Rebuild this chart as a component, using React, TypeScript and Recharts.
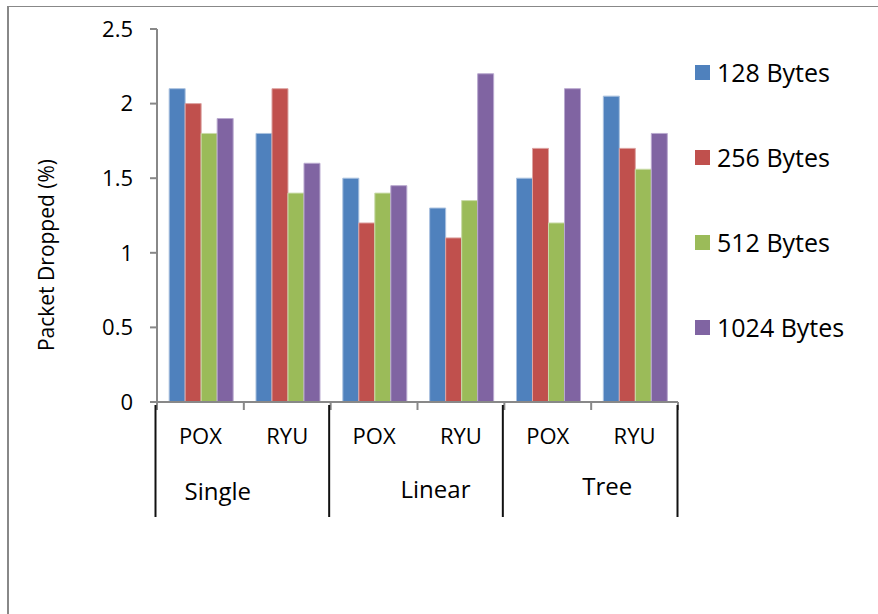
import React from 'react';
import { BarChart, Bar, XAxis, YAxis } from 'recharts';

const CONTROLLERS = ['POX', 'RYU', 'POX', 'RYU', 'POX', 'RYU'];
const TOPOLOGIES = ['Single', 'Single', 'Linear', 'Linear', 'Tree', 'Tree'];
const SERIES = ['128 Bytes', '256 Bytes', '512 Bytes', '1024 Bytes'];
const V128 = [2.1, 1.8, 1.5, 1.3, 1.5, 2.05];
const V256 = [2.0, 2.1, 1.2, 1.1, 1.7, 1.7];
const V512 = [1.8, 1.4, 1.4, 1.35, 1.2, 1.56];
const V1024 = [1.9, 1.6, 1.45, 2.2, 2.1, 1.8];
const Y_TICKS = [0, 0.5, 1, 1.5, 2, 2.5];

const COLORS = ['#4F81BD', '#C0504D', '#9BBB59', '#8064A2'];
const STROKES = ['#A9C1DF', '#DDA4A3', '#CADBA9', '#B9A9CF'];
const FONT = '"Open Sans", "Noto Sans", sans-serif';

const W = 878;
const H = 614;
const M_LEFT = 97;
const Y_W = 60;
const M_RIGHT = 200;
const PLOT_W = W - M_LEFT - Y_W - M_RIGHT;
const BAND = PLOT_W / CONTROLLERS.length;
const GROUP_DX = [-26, 18, 16];
const GROUP_DY = [38, 36, 33];

const VALUES = [V128, V256, V512, V1024];
const data = CONTROLLERS.map((c, i) => {
  const row: any = { controller: c, group: TOPOLOGIES[i], key: `${TOPOLOGIES[i]}-${c}` };
  SERIES.forEach((s, j) => {
    row[s] = VALUES[j][i];
  });
  return row;
});

const ControllerTick = (props: any) => {
  const { x, y, payload, index } = props;
  const left = x - BAND / 2;
  const right = x + BAND / 2;
  const isGroupStart = index % 2 === 0;
  const isLast = index === CONTROLLERS.length - 1;
  return (
    <g>
      <line x1={left} y1={y} x2={left} y2={y + 8} stroke="#888" strokeWidth={2} />
      {isLast && <line x1={right} y1={y} x2={right} y2={y + 8} stroke="#888" strokeWidth={2} />}
      {isGroupStart && (
        <line x1={left - 1.5} y1={y + 3} x2={left - 1.5} y2={y + 115} stroke="#111" strokeWidth={2} />
      )}
      {isLast && <line x1={right - 0.5} y1={y + 3} x2={right - 0.5} y2={y + 115} stroke="#111" strokeWidth={2} />}
      <text x={x} y={y + 42} textAnchor="middle" fontFamily={FONT} fontSize={22} fill="#000">
        {CONTROLLERS[index] ?? payload.value}
      </text>
    </g>
  );
};

const GroupTick = (props: any) => {
  const { x, y, payload, index } = props;
  return (
    <text
      x={x + (GROUP_DX[index] ?? 0)}
      y={y + (GROUP_DY[index] ?? 36)}
      textAnchor="middle"
      fontFamily={FONT}
      fontSize={24}
      fill="#000"
    >
      {payload.value}
    </text>
  );
};

export default function App() {
  return (
    <div style={{ position: 'absolute', left: 0, top: 0, width: W, height: H, overflow: 'hidden', background: '#fff' }}>
      <div
        style={{
          position: 'absolute',
          left: 7,
          top: 6,
          width: W + 20,
          height: H + 20,
          borderLeft: '2px solid #888',
          borderTop: '1px solid #888',
        }}
      />
      <div style={{ position: 'absolute', left: 0, top: 0 }}>
        <BarChart
          width={W}
          height={H}
          data={data}
          margin={{ top: 29, right: M_RIGHT, bottom: 92, left: M_LEFT }}
          barCategoryGap="14%"
          barGap={0}
        >
          <XAxis
            dataKey="key"
            height={60}
            tick={<ControllerTick />}
            tickLine={false}
            tickSize={0}
            tickMargin={0}
            axisLine={{ stroke: '#888', strokeWidth: 2 }}
            interval={0}
          />
          <XAxis
            xAxisId="grp"
            dataKey="group"
            allowDuplicatedCategory={false}
            height={60}
            tick={<GroupTick />}
            tickLine={false}
            tickSize={0}
            tickMargin={0}
            axisLine={false}
            interval={0}
          />
          <YAxis
            width={Y_W}
            domain={[0, 2.5]}
            ticks={Y_TICKS}
            interval={0}
            tickSize={7}
            tickMargin={17}
            tickLine={{ stroke: '#888', strokeWidth: 2 }}
            axisLine={{ stroke: '#888', strokeWidth: 2 }}
            tick={{ fontFamily: FONT, fontSize: 22, fill: '#000' }}
          />
          {SERIES.map((s, i) => (
            <Bar
              key={s}
              dataKey={s}
              fill={COLORS[i]}
              stroke={STROKES[i]}
              strokeWidth={1}
              isAnimationActive={false}
            />
          ))}
        </BarChart>
      </div>
      <div
        style={{
          position: 'absolute',
          left: 46,
          top: 255,
          transform: 'translate(-50%, -50%) rotate(-90deg)',
          whiteSpace: 'nowrap',
          fontFamily: FONT,
          fontSize: 21,
          lineHeight: 1,
          color: '#000',
        }}
      >
        Packet Dropped (%)
      </div>
      <div style={{ position: 'absolute', left: 695, top: 30, fontFamily: FONT, fontSize: 25, color: '#000' }}>
        {SERIES.map((s, i) => (
          <div key={s} style={{ display: 'flex', alignItems: 'center', height: 85 }}>
            <span style={{ display: 'inline-block', width: 15, height: 15, background: COLORS[i], marginRight: 7 }} />
            <span style={{ lineHeight: 1 }}>{s}</span>
          </div>
        ))}
      </div>
    </div>
  );
}
